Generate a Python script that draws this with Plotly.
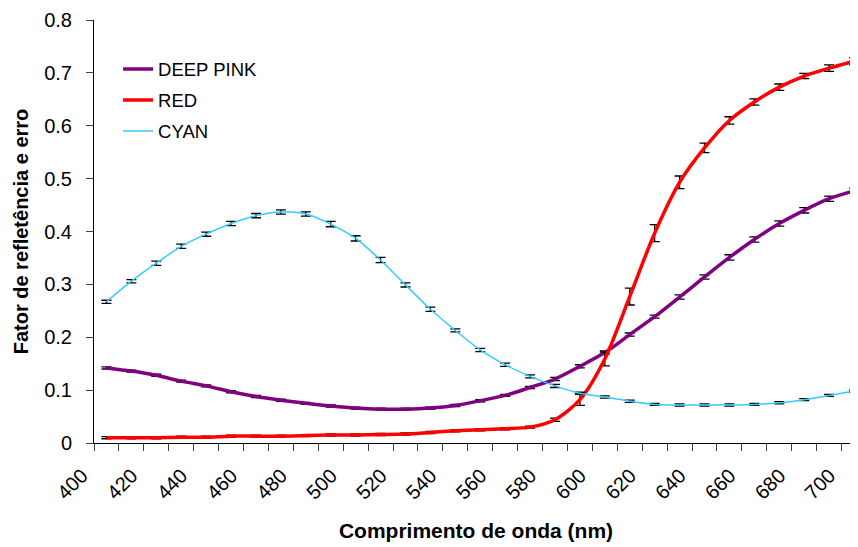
import plotly.graph_objects as go

wavelength = [405, 415, 425, 435, 445, 455, 465, 475, 485, 495, 505, 515, 525, 535, 545,
              555, 565, 575, 585, 595, 605, 615, 625, 635, 645, 655, 665, 675, 685, 695, 705]

deep_pink = [0.142, 0.136, 0.128, 0.117, 0.108, 0.097, 0.088, 0.081, 0.075, 0.070, 0.066,
             0.064, 0.064, 0.066, 0.071, 0.080, 0.090, 0.105, 0.121, 0.145, 0.171, 0.205,
             0.239, 0.276, 0.314, 0.351, 0.385, 0.415, 0.440, 0.462, 0.477]
deep_pink_err = [0.002, 0.002, 0.002, 0.002, 0.002, 0.002, 0.002, 0.002, 0.002, 0.002, 0.002,
                 0.002, 0.002, 0.002, 0.002, 0.002, 0.002, 0.002, 0.003, 0.003, 0.003, 0.003,
                 0.003, 0.004, 0.004, 0.005, 0.005, 0.005, 0.005, 0.005, 0.005]

red = [0.010, 0.010, 0.010, 0.011, 0.011, 0.013, 0.013, 0.013, 0.014, 0.015, 0.015,
       0.016, 0.017, 0.020, 0.023, 0.025, 0.027, 0.030, 0.044, 0.082, 0.159, 0.277,
       0.397, 0.493, 0.558, 0.610, 0.645, 0.673, 0.694, 0.709, 0.722]
red_err = [0.002, 0.002, 0.002, 0.002, 0.002, 0.002, 0.002, 0.002, 0.002, 0.002, 0.002,
           0.002, 0.002, 0.002, 0.002, 0.002, 0.002, 0.002, 0.003, 0.011, 0.013, 0.016,
           0.016, 0.012, 0.009, 0.007, 0.006, 0.006, 0.005, 0.006, 0.007]

cyan = [0.267, 0.306, 0.340, 0.372, 0.395, 0.415, 0.430, 0.437, 0.433, 0.414, 0.387,
        0.346, 0.299, 0.253, 0.213, 0.176, 0.148, 0.126, 0.108, 0.094, 0.087, 0.079,
        0.073, 0.072, 0.072, 0.072, 0.073, 0.076, 0.082, 0.090, 0.098]
cyan_err = [0.003, 0.003, 0.004, 0.004, 0.004, 0.004, 0.004, 0.004, 0.004, 0.005, 0.005,
            0.005, 0.004, 0.004, 0.003, 0.003, 0.003, 0.003, 0.003, 0.002, 0.002, 0.002,
            0.002, 0.002, 0.002, 0.002, 0.002, 0.002, 0.002, 0.002, 0.002]

series = [
    ("DEEP PINK", deep_pink, deep_pink_err, "#800080", 3.5),
    ("RED", red, red_err, "#FF0000", 3.5),
    ("CYAN", cyan, cyan_err, "#33CCFF", 1.5),
]

FONT = "Liberation Sans, Arial, sans-serif"

fig = go.Figure()
for name, vals, errs, color, lw in series:
    fig.add_trace(go.Scatter(
        x=wavelength, y=vals, name=name, mode="lines", legendgroup=name,
        line=dict(color=color, width=lw, shape="spline", smoothing=0.8),
        error_y=dict(type="data", array=errs, visible=True, color="black",
                     thickness=1.3, width=5),
    ))

# the page body adds an 8px margin, so the figure is drawn 8px smaller/shifted
fig.update_layout(
    width=850, height=539,
    margin=dict(l=86, r=0, t=12, b=103.5, autoexpand=False),
    paper_bgcolor="white", plot_bgcolor="white",
    font=dict(family=FONT, color="black"),
    showlegend=True,
    legend=dict(
        x=0.0315, y=0.928, xanchor="left", yanchor="top",
        font=dict(size=18.5, family=FONT), bgcolor="rgba(0,0,0,0)",
        traceorder="grouped", tracegroupgap=4,
    ),
)

fig.update_xaxes(
    range=[400, 706.6],
    tickmode="linear", tick0=400, dtick=20,
    ticks="outside", ticklen=7, tickcolor="#404040", tickwidth=1,
    minor=dict(dtick=10, tick0=400, ticks="outside", ticklen=7, tickcolor="#404040", showgrid=False),
    showgrid=False, zeroline=False,
    showline=True, linecolor="black", linewidth=1,
    tickangle=-45, tickfont=dict(size=20, family=FONT),
    ticklabelstandoff=5, ticklabelshift=-12, ticklabeloverflow="allow",
    title=dict(text="Comprimento de onda (nm)", font=dict(size=21, family=FONT, weight="bold"), standoff=20),
)

fig.update_yaxes(
    range=[0, 0.8], tickmode="linear", tick0=0, dtick=0.1,
    ticks="outside", ticklen=7, tickcolor="#404040", tickwidth=1,
    showgrid=False, zeroline=False,
    showline=True, linecolor="black", linewidth=1,
    tickfont=dict(size=20, family=FONT),
    ticklabelstandoff=10, ticklabeloverflow="allow",
    title=dict(text="Fator de refletência e erro", font=dict(size=20, family=FONT, weight="bold"), standoff=10),
)

fig.write_html("out.html")
